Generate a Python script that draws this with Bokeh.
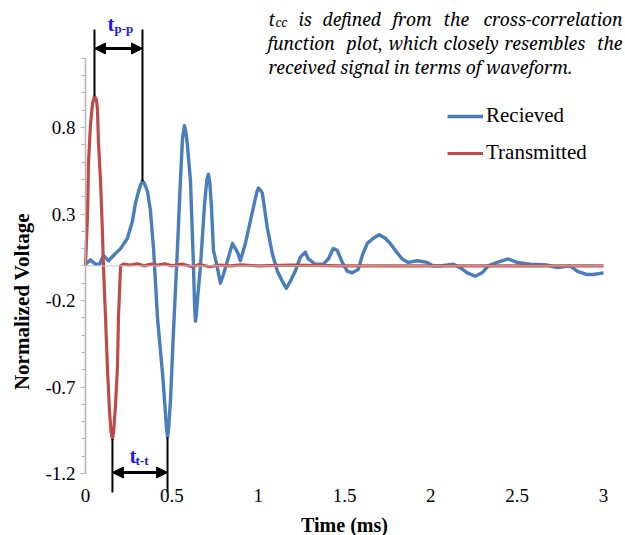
import numpy as np
from bokeh.plotting import figure
from bokeh.models import (Range1d, FixedTicker, Label, Arrow, NormalHead,
                          Legend, LegendItem, LinearAxis)
from bokeh.embed import file_html
from bokeh.resources import INLINE

# ---------------- data ----------------
time_tx = [0.0, 0.012, 0.017, 0.029, 0.041, 0.052, 0.063, 0.069, 0.075, 0.087,
           0.098, 0.104, 0.116, 0.127, 0.139, 0.148, 0.156, 0.163, 0.174, 0.185,
           0.191, 0.203, 0.22, 0.26, 0.30, 0.34, 0.38, 0.42, 0.46, 0.50, 0.56,
           0.62, 0.66, 0.72, 0.78, 0.84, 0.90, 1.0, 1.2, 1.5, 2.0, 2.5, 3.0]
v_tx = [0.0, 0.30, 0.59, 0.82, 0.94, 0.98, 0.96, 0.91, 0.72, 0.49,
        0.20, 0.0, -0.30, -0.59, -0.84, -0.96, -1.0, -0.96, -0.80, -0.59,
        -0.30, 0.0, 0.01, 0.005, 0.012, 0.0, 0.01, 0.005, 0.012, 0.0, 0.01,
        -0.005, 0.008, -0.005, 0.005, 0.0, 0.006, 0.0, 0.004, 0.0, 0.0, 0.0, 0.0]

time_rx = [0.0, 0.029, 0.058, 0.081, 0.104, 0.133, 0.162, 0.203, 0.243, 0.272,
           0.289, 0.307, 0.320, 0.330, 0.340, 0.359, 0.376, 0.394, 0.405, 0.417,
           0.434, 0.446, 0.463, 0.469, 0.475, 0.482, 0.492, 0.509, 0.532, 0.550,
           0.562, 0.573, 0.582, 0.590, 0.608, 0.625, 0.632, 0.637, 0.642, 0.648,
           0.666, 0.689, 0.703, 0.712, 0.720, 0.729, 0.741, 0.764, 0.781, 0.799,
           0.822, 0.851, 0.880, 0.897, 0.926, 0.955, 0.984, 0.993, 1.001, 1.012,
           1.024, 1.053, 1.082, 1.111, 1.140, 1.163, 1.186, 1.215, 1.244, 1.273,
           1.290, 1.331, 1.377, 1.406, 1.435, 1.458, 1.487, 1.516, 1.545, 1.580,
           1.603, 1.632, 1.667, 1.701, 1.736, 1.765, 1.794, 1.834, 1.869, 1.921,
           1.979, 2.014, 2.054, 2.130, 2.170, 2.211, 2.257, 2.297, 2.332, 2.384,
           2.448, 2.500, 2.575, 2.674, 2.731, 2.807, 2.847, 2.905, 2.940, 3.0]
v_rx = [0.01, 0.035, 0.01, 0.01, 0.06, 0.03, 0.06, 0.10, 0.16, 0.26,
        0.36, 0.43, 0.47, 0.49, 0.48, 0.43, 0.32, 0.10, -0.09, -0.30,
        -0.49, -0.62, -0.85, -0.94, -0.99, -0.93, -0.78, -0.39, 0.09, 0.50,
        0.74, 0.81, 0.77, 0.70, 0.49, 0.01, -0.24, -0.32, -0.28, -0.20,
        0.0, 0.35, 0.50, 0.53, 0.48, 0.35, 0.09, -0.01, -0.10, -0.05,
        0.03, 0.13, 0.08, 0.03, 0.13, 0.26, 0.39, 0.43, 0.45, 0.44,
        0.42, 0.22, 0.07, -0.03, -0.09, -0.13, -0.09, -0.03, 0.05, 0.08,
        0.04, 0.01, 0.01, 0.04, 0.10, 0.09, 0.02, -0.03, -0.04, -0.02,
        0.06, 0.13, 0.16, 0.18, 0.16, 0.13, 0.09, 0.04, 0.02, 0.03,
        0.02, 0.0, 0.0, 0.01, -0.01, -0.04, -0.06, -0.04, 0.0, 0.02,
        0.04, 0.02, 0.01, 0.005, -0.01, 0.0, -0.03, -0.05, -0.05, -0.04]

x_ticks = [0, 0.5, 1, 1.5, 2, 2.5, 3]
x_tick_labels = ["0", "0.5", "1", "1.5", "2", "2.5", "3"]
y_ticks = [-1.2, -0.7, -0.2, 0.3, 0.8]
y_tick_labels = ["-1.2", "-0.7", "-0.2", "0.3", "0.8"]
y_minor = [round(-1.2 + 0.1 * i, 1) for i in range(25)]

series_names = ["Recieved", "Transmitted"]
RX_COLOR = "#4a7ebb"
TX_COLOR = "#be4b48"
ANN_BLUE = "#1c1cf0"
SERIF = "Liberation Serif"
ITALIC_SERIF = "Noto Serif"

W, H = 625, 535
# where the data frame sits in the picture (pixels)
X0_PX, PX_PER_X = 85.0, 172.67
Y0_PX, PX_PER_Y = 265.4, 173.0


def dx(px):
    return (px - X0_PX) / PX_PER_X


def dy(py):
    return (Y0_PX - py) / PX_PER_Y


p = figure(width=W, height=H, output_backend="svg", toolbar_location=None,
           x_range=Range1d(dx(0), dx(W)), y_range=Range1d(dy(H), dy(0)),
           x_axis_location=None, y_axis_location=None, min_border=0)
p.outline_line_color = None
p.xgrid.visible = False
p.ygrid.visible = False
p.background_fill_color = "white"
p.border_fill_color = "white"

xa = LinearAxis(ticker=FixedTicker(ticks=x_ticks), fixed_location=y_ticks[0],
                bounds=(x_ticks[0], x_ticks[-1]))
xa.major_label_overrides = {float(t): s for t, s in zip(x_ticks, x_tick_labels)}
xa.axis_line_color = None
xa.major_tick_line_color = None
xa.minor_tick_line_color = None
xa.major_label_standoff = 9
xa.major_label_text_font = SERIF
xa.major_label_text_font_size = "19px"
xa.major_label_text_color = "black"
p.add_layout(xa, "below")

ya = LinearAxis(ticker=FixedTicker(ticks=y_ticks, minor_ticks=y_minor),
                fixed_location=0, bounds=(-1.2, 1.2))
ya.major_label_overrides = {float(t): s for t, s in zip(y_ticks, y_tick_labels)}
ya.axis_line_color = "#b4b4b4"
ya.axis_line_width = 1.5
ya.major_tick_line_color = "#b4b4b4"
ya.minor_tick_line_color = "#b4b4b4"
ya.major_tick_in = 0
ya.major_tick_out = 5
ya.minor_tick_in = 0
ya.minor_tick_out = 4
ya.major_label_standoff = 5
ya.major_label_text_font = SERIF
ya.major_label_text_font_size = "19px"
ya.major_label_text_color = "black"
p.add_layout(ya, "left")

# horizontal zero line of the chart
p.add_layout(Arrow(x_start=x_ticks[0], y_start=0, x_end=x_ticks[-1], y_end=0,
                   start=None, end=None, line_color="#c8c8c8", line_width=1))

r_rx = p.line(time_rx, v_rx, line_color=RX_COLOR, line_width=3.4, line_join="round")
r_tx = p.line(time_tx, v_tx, line_color=TX_COLOR, line_width=3.2, line_join="round")

legend = Legend(items=[LegendItem(label=series_names[0], renderers=[r_rx]),
                       LegendItem(label=series_names[1], renderers=[r_tx])],
                location=(447, H - 165), orientation="vertical",
                glyph_width=36, glyph_height=24, label_height=24, spacing=12,
                label_standoff=3, padding=0, margin=0,
                border_line_color=None, background_fill_alpha=0,
                label_text_font=SERIF, label_text_font_size="21px",
                label_text_color="black")
p.add_layout(legend)

# ---------------- time markers, derived from the data ----------------
tx = np.array(v_tx)
rx = np.array(v_rx)
ttx = np.array(time_tx)
trx = np.array(time_rx)
i_tx_pk = int(np.argmax(tx))
i_rx_pk = int(np.argmax(np.where(trx < 0.4, rx, -9)))
i_tx_tr = int(np.argmin(tx))
i_rx_tr = int(np.argmin(rx))

top_end = dy(29)
arrow_top = dy(48)
bot_end = dy(492)
arrow_bot = dy(472)

for t, v, yend in [(ttx[i_tx_pk], tx[i_tx_pk], top_end),
                   (trx[i_rx_pk], rx[i_rx_pk], top_end),
                   (ttx[i_tx_tr], tx[i_tx_tr], bot_end),
                   (trx[i_rx_tr], rx[i_rx_tr], bot_end)]:
    p.add_layout(Arrow(x_start=t, y_start=v, x_end=t, y_end=yend, start=None, end=None,
                       line_color="black", line_width=2))

for t0, t1, yy in [(ttx[i_tx_pk], trx[i_rx_pk], arrow_top),
                   (ttx[i_tx_tr], trx[i_rx_tr], arrow_bot)]:
    p.add_layout(Arrow(x_start=t0, y_start=yy, x_end=t1, y_end=yy,
                       start=NormalHead(size=11, fill_color="black", line_color="black"),
                       end=NormalHead(size=11, fill_color="black", line_color="black"),
                       line_color="black", line_width=3))

BASE_SHIFT = 6  # Bokeh draws alphabetic baselines a little low


def lab(text, px, py, size, style="normal", color="black", align="left",
        font=SERIF):
    p.add_layout(Label(x=dx(px), y=dy(py - BASE_SHIFT), text=text, text_font=font,
                       text_font_size=size, text_font_style=style,
                       text_color=color, text_align=align,
                       text_baseline="alphabetic"))


# marker labels
lab("t", 107, 29, "21px", "bold", ANN_BLUE)
lab("p-p", 114, 34, "13px", "bold", ANN_BLUE)
lab("t", 129, 461, "21px", "bold", ANN_BLUE)
lab("t-t", 135, 466, "13px", "bold", ANN_BLUE)

# axis titles
p.add_layout(Label(x=dx(21), y=dy(301), text="Normalized Voltage", text_font=SERIF,
                   text_font_size="21px", text_font_style="bold", text_color="black",
                   text_align="center", text_baseline="alphabetic", angle=np.pi / 2))
lab("Time (ms)", 344, 530, "20px", "bold", "black", "center")

# note (justified text, placed word by word)
NF = "17.5px"
lab("t", 268, 24, NF, "italic", font=ITALIC_SERIF)
lab("cc", 275, 28, "12px", "italic", font=ITALIC_SERIF)
for w, x in [("is", 298), ("defined", 322), ("from", 392), ("the", 443)]:
    lab(w, x, 24, NF, "italic", font=ITALIC_SERIF)
lab("cross-correlation", 622, 24, NF, "italic", align="right", font=ITALIC_SERIF)
for w, x in [("function", 267), ("plot,", 346), ("which", 388), ("closely", 443),
             ("resembles", 504)]:
    lab(w, x, 48, NF, "italic", font=ITALIC_SERIF)
lab("the", 622, 48, NF, "italic", align="right", font=ITALIC_SERIF)
lab("received signal in terms of waveform.", 268, 72, NF, "italic", font=ITALIC_SERIF)

open("out.html", "w").write(file_html(p, INLINE))
